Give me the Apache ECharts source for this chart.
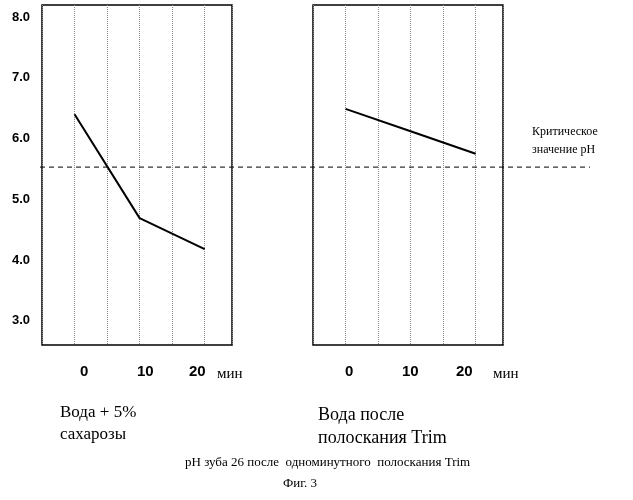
<!DOCTYPE html><html><head><meta charset="utf-8"><script src="https://cdn.jsdelivr.net/npm/echarts@6/dist/echarts.min.js"></script>
<style>body{margin:0;background:#fff}#c{width:633px;height:500px}</style></head><body><div id="c"></div><script>
const minutes=[0,10,20];
const sucrose=[6.40,4.69,4.18];
const trim=[6.49,6.12,5.75];
const critical=5.53;
const yTicks=[3,4,5,6,7,8];
const xTickLabels=['0','10','20'];
const ch=echarts.init(document.getElementById('c'));
const yBase={type:'value',min:2.6,max:8.2,interval:0.2,splitLine:{show:false},axisTick:{show:false},axisLine:{show:false}};
const xBase={type:'value',min:-5,max:24.2,interval:5,axisLabel:{show:false},axisTick:{show:false},axisLine:{show:false},splitLine:{show:true,lineStyle:{type:'dotted',color:'#888',width:1}}};
const g=[];
[42,313].forEach((x,i)=>{xTickLabels.forEach((t,j)=>{});});
const xl=[[85,147,199],[350,412,466]];
xl.forEach((arr,i)=>arr.forEach((x,j)=>g.push({type:'text',left:x-(xTickLabels[j].length*5),top:364,style:{text:xTickLabels[j],font:'bold 15px Arial',fill:'#000'}})));
g.push({type:'text',left:217,top:367,style:{text:'мин',font:'15px "Liberation Serif"',fill:'#000'}});
g.push({type:'text',left:493,top:367,style:{text:'мин',font:'15px "Liberation Serif"',fill:'#000'}});
g.push({type:'text',left:60,top:402,style:{text:'Вода + 5%\nсахарозы',font:'17px "Liberation Serif"',lineHeight:22,fill:'#000'}});
g.push({type:'text',left:318,top:404,style:{text:'Вода после\nполоскания Trim',font:'18px "Liberation Serif"',lineHeight:23,fill:'#000'}});
g.push({type:'text',left:185,top:456,style:{text:'pH зуба 26 после  одноминутного  полоскания Trim',font:'13px "Liberation Serif"',fill:'#000'}});
g.push({type:'text',left:283,top:477,style:{text:'Фиг. 3',font:'13px "Liberation Serif"',fill:'#000'}});
g.push({type:'text',left:532,top:123,style:{text:'Критическое\nзначение pH',font:'12px "Liberation Serif"',lineHeight:18,fill:'#000'}});
ch.setOption({animation:false,
grid:[{left:42,top:5,width:190,height:340,show:true,borderColor:'#000',borderWidth:1.5},
{left:313,top:5,width:190,height:340,show:true,borderColor:'#000',borderWidth:1.5},
{left:40,top:5,width:550,height:340}],
xAxis:[Object.assign({gridIndex:0},xBase),Object.assign({gridIndex:1},xBase),{gridIndex:2,type:'value',min:0,max:1,show:false}],
yAxis:[Object.assign({gridIndex:0,axisLabel:{show:true,margin:12,font:'bold 13px Arial',fontWeight:'bold',fontSize:13,fontFamily:'Arial',color:'#000',formatter:v=>{const r=Math.round(v*10)/10;return yTicks.includes(r)?r.toFixed(1):'';}}},yBase),
Object.assign({gridIndex:1,axisLabel:{show:false}},yBase),Object.assign({gridIndex:2,show:false},yBase)],
series:[
{type:'line',xAxisIndex:0,yAxisIndex:0,data:minutes.map((m,i)=>[m,sucrose[i]]),symbol:'none',lineStyle:{color:'#000',width:2}},
{type:'line',xAxisIndex:1,yAxisIndex:1,data:minutes.map((m,i)=>[m,trim[i]]),symbol:'none',lineStyle:{color:'#000',width:2}},
{type:'line',xAxisIndex:2,yAxisIndex:2,data:[[0,critical],[1,critical]],symbol:'none',lineStyle:{color:'#000',width:1,type:[5,4]}}],
graphic:g});
</script></body></html>
